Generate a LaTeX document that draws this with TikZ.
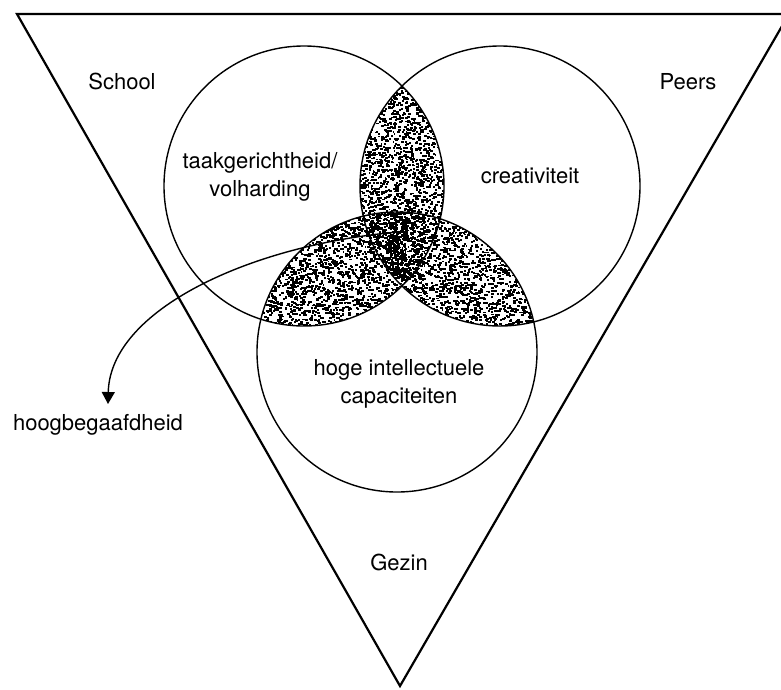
\documentclass[tikz,border=0pt]{standalone}
\usepackage{fontspec}
\setmainfont{TeX Gyre Heros}
\usetikzlibrary{arrows.meta}
\newcommand\speckles[5]{%
  \foreach \i in {1,...,#5}{%
    \pgfmathsetmacro\px{#1+#3*rnd}%
    \pgfmathsetmacro\py{#2+#4*rnd}%
    \pgfmathsetmacro\pw{1.6+1.8*rnd}%
    \fill (\px,\py) rectangle ++(\pw,1.9);}}
\begin{document}
\begin{tikzpicture}[x=1pt,y=-1pt,
  frame/.style={line width=2.2pt, line join=miter},
  ring/.style={line width=1.4pt},
  lbl/.style={font=\fontsize{22}{28}\selectfont, inner sep=0pt, anchor=base, align=center},
  link/.style={line width=1.4pt, -{Triangle[length=12pt,width=13pt]}}]
\pgfmathsetseed{7}
\useasboundingbox (0,0) rectangle (781,689);
\begin{scope}
  \clip (0,0) rectangle (781,689);
  \draw[frame] (17,14) -- (789,14) -- (400,686) -- cycle;
\end{scope}
% shaded overlaps
\begin{scope}
  \clip (304,186) circle (140pt);
  \clip (500,186) circle (140pt);
  \speckles{355}{80}{95}{210}{2300}
\end{scope}
\begin{scope}
  \clip (304,186) circle (140pt);
  \clip (397,352) circle (140pt);
  \speckles{250}{205}{155}{125}{2300}
\end{scope}
\begin{scope}
  \clip (500,186) circle (140pt);
  \clip (397,352) circle (140pt);
  \speckles{390}{205}{160}{125}{2300}
\end{scope}
% circles
\draw[ring] (304,186) circle (140pt);
\draw[ring] (500,186) circle (140pt);
\draw[ring] (397,352) circle (140pt);
% labels
\node[lbl] (school) at (122,89) {School};
\node[lbl] (peers) at (688,89) {Peers};
\node[lbl] (taak) at (260,196) {taakgerichtheid/\\volharding};
\node[lbl] (crea) at (530,183) {creativiteit};
\node[lbl] (hoge) at (399,403) {hoge intellectuele\\capaciteiten};
\node[lbl] (gezin) at (399,570) {Gezin};
\node[lbl] (hb) at (98,430) {hoogbegaafdheid};
% arrow
\coordinate (core) at (398,232);
\coordinate (tip) at (108,404);
\draw[link] (core) .. controls (250,245) and (110,310) .. (tip);
\end{tikzpicture}
\end{document}
